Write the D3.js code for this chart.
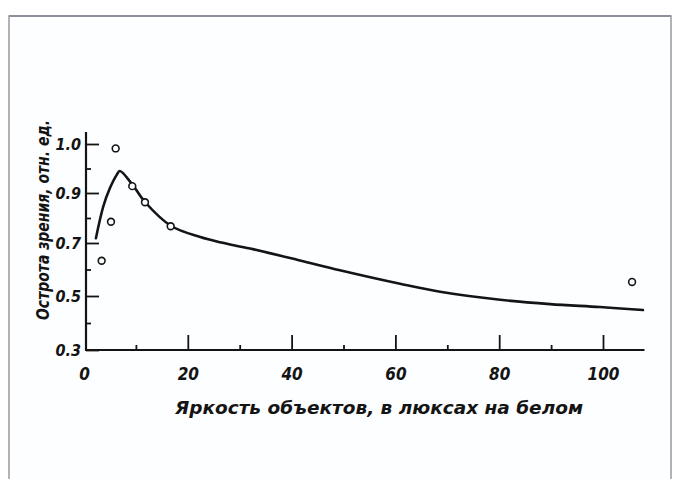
<!DOCTYPE html>
<html>
<head>
<meta charset="utf-8">
<script src="https://cdn.jsdelivr.net/npm/d3@7"></script>
<style>
  html, body { margin: 0; padding: 0; background: #ffffff; }
  svg text { font-family: "DejaVu Sans Condensed", "DejaVu Sans", sans-serif; font-style: italic; font-weight: bold; fill: #141414; }
</style>
</head>
<body>
<svg id="chart" width="677" height="479"></svg>
<script>
// Brightness of objects (lux on white) vs. relative visual acuity
const curveX = [2.3, 3.7, 5.0, 6.3, 6.9, 9.4, 11.75, 16.8, 22.4, 26.2, 32.0, 41.6, 49.3, 60.9, 68.6, 80.2, 89.8, 99.4, 107.7];
const curveY = [0.719, 0.845, 0.910, 0.937, 0.945, 0.916, 0.864, 0.768, 0.724, 0.703, 0.679, 0.634, 0.597, 0.546, 0.516, 0.486, 0.470, 0.459, 0.448];

const pointX = [3.4, 5.2, 6.1, 9.3, 11.75, 16.7, 105.6];
const pointY = [0.633, 0.785, 0.991, 0.914, 0.863, 0.767, 0.553];

const xTicks = [0, 20, 40, 60, 80, 100];
const xMinor = [10, 30, 50, 70, 90];
const yTicks = [0.3, 0.5, 0.7, 0.9, 1.0];
const yMinor = [0.4, 0.6, 0.8, 0.95];
const yTickLabels = ["0.3", "0.5", "0.7", "0.9", "1.0"];

const xTitle = "Яркость  объектов, в люксах на белом";
const yTitle = "Острота зрения, отн. ед.";

const svg = d3.select("#chart");

// scanned page frame
svg.append("rect")
  .attr("x", 9).attr("y", 16).attr("width", 662).attr("height", 480)
  .attr("fill", "#fdfeff").attr("stroke", "#9a9a9a").attr("stroke-width", 1.5);
svg.append("line")
  .attr("x1", 9).attr("x2", 671).attr("y1", 16).attr("y2", 16)
  .attr("stroke", "#8a8f99").attr("stroke-width", 2);

const x = d3.scaleLinear().domain([0, 100]).range([84, 603]);
// the printed value axis is not evenly graduated: each labelled step gets its own segment
const y = d3.scaleLinear().domain(yTicks).range([350, 296, 243, 193, 144]);

const ink = "#141414";

// axis lines
svg.append("line").attr("x1", 86).attr("x2", 86).attr("y1", 132).attr("y2", 351)
  .attr("stroke", ink).attr("stroke-width", 2.2);
svg.append("line").attr("x1", 85).attr("x2", x(108)).attr("y1", 350).attr("y2", 350)
  .attr("stroke", ink).attr("stroke-width", 2.2);

// y axis ticks (pointing inward) and labels
const yAxis = svg.append("g").attr("transform", "translate(86,0)")
  .call(d3.axisLeft(y).tickValues(yTicks).tickSize(-13).tickPadding(5)
    .tickFormat((d, i) => yTickLabels[i]));
yAxis.select(".domain").remove();
yAxis.selectAll(".tick line").attr("stroke", ink).attr("stroke-width", 1.8);
yAxis.selectAll(".tick text").attr("font-size", 16).attr("fill", ink)
  .attr("font-family", null).attr("dy", "0.35em");

svg.append("g").attr("transform", "translate(86,0)")
  .call(d3.axisLeft(y).tickValues(yMinor).tickSize(-5).tickFormat(""))
  .call(g => g.select(".domain").remove())
  .selectAll(".tick line").attr("stroke", ink).attr("stroke-width", 1.8);

// x axis ticks (pointing upward) and labels
const xAxis = svg.append("g").attr("transform", "translate(0,350)")
  .call(d3.axisBottom(x).tickValues(xTicks).tickSize(-15).tickPadding(18));
xAxis.select(".domain").remove();
xAxis.selectAll(".tick line").attr("stroke", ink).attr("stroke-width", 1.8);
xAxis.selectAll(".tick text").attr("font-size", 17).attr("fill", ink)
  .attr("font-family", null).attr("dy", "0.71em");
xAxis.selectAll(".tick").filter(d => d === 0).select("line").remove();

svg.append("g").attr("transform", "translate(0,350)")
  .call(d3.axisBottom(x).tickValues(xMinor).tickSize(-5).tickFormat(""))
  .call(g => g.select(".domain").remove())
  .selectAll(".tick line").attr("stroke", ink).attr("stroke-width", 1.8);

// titles
svg.append("text")
  .attr("x", 379).attr("y", 414)
  .attr("text-anchor", "middle")
  .attr("font-size", 18)
  .attr("textLength", 408).attr("lengthAdjust", "spacingAndGlyphs")
  .text(xTitle);

svg.append("text")
  .attr("transform", "translate(49,220) rotate(-90)")
  .attr("text-anchor", "middle")
  .attr("font-size", 17)
  .attr("textLength", 200).attr("lengthAdjust", "spacingAndGlyphs")
  .text(yTitle);

// fitted curve
const curveData = curveX.map((v, i) => [v, curveY[i]]);
svg.append("path")
  .datum(curveData)
  .attr("fill", "none")
  .attr("stroke", ink)
  .attr("stroke-width", 2.6)
  .attr("stroke-linecap", "round")
  .attr("d", d3.line().x(d => x(d[0])).y(d => y(d[1])).curve(d3.curveCatmullRom.alpha(0.5)));

// measured points
svg.append("g").selectAll("circle")
  .data(pointX.map((v, i) => [v, pointY[i]]))
  .join("circle")
  .attr("cx", d => x(d[0]))
  .attr("cy", d => y(d[1]))
  .attr("r", 3.4)
  .attr("fill", "#ffffff")
  .attr("stroke", ink)
  .attr("stroke-width", 1.6);
</script>
</body>
</html>
